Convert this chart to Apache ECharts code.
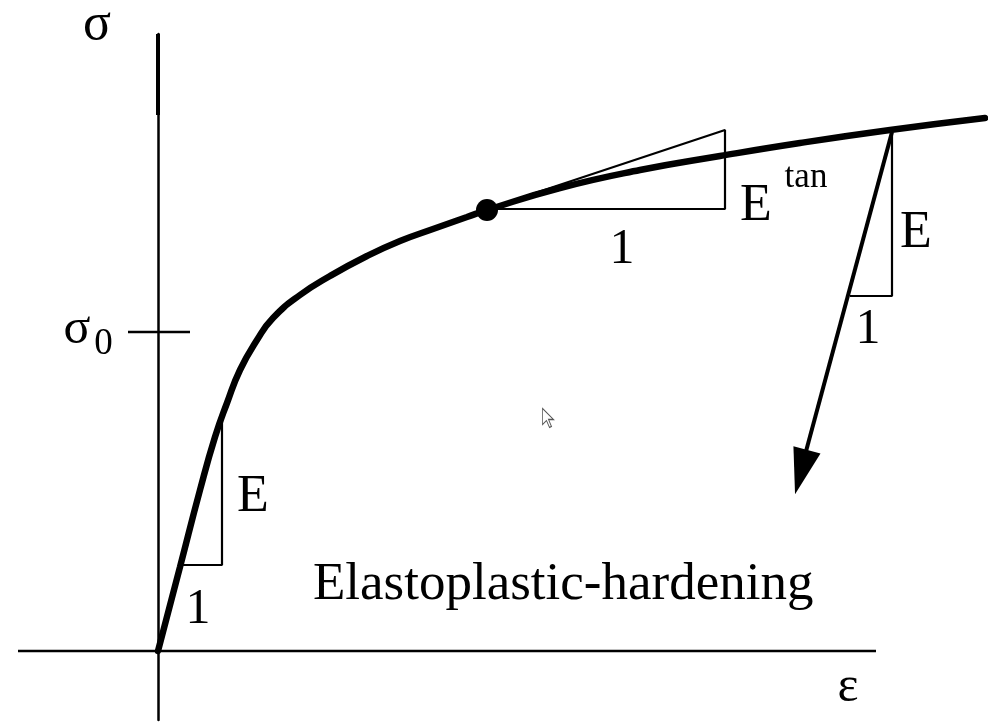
<!DOCTYPE html>
<html><head><meta charset="utf-8">
<script src="https://cdn.jsdelivr.net/npm/echarts@6/dist/echarts.min.js"></script>
<style>html,body{margin:0;padding:0;background:#fff}#c{width:988px;height:724px}</style>
</head><body><div id="c"></div>
<script>
// Stress-strain curve (arbitrary units)
const curveEps = [0, 0.22, 0.42, 0.57, 0.69, 0.82, 0.99, 1.15, 1.42, 1.72, 2.09, 2.42, 2.75, 3.09, 3.29, 4.02, 4.82, 5.62, 6.42, 7.32, 8.27];
const curveSig = [0, 0.84, 1.61, 2.14, 2.48, 2.81, 3.11, 3.33, 3.56, 3.75, 3.95, 4.10, 4.22, 4.34, 4.41, 4.63, 4.81, 4.95, 5.08, 5.21, 5.33];
const viewEps = [-1.40, 8.30];
const viewSig = [-0.69, 6.17];
const xAxisLineEps = [-1.40, 7.18];
const sigma0 = 3.19;
const sigma0TickEps = [-0.30, 0.32];
const tangentPoint = [3.29, 4.41];
const tangentTriEps = [3.29, 5.67, 5.67, 3.29];
const tangentTriSig = [4.42, 4.42, 5.21, 4.42];
const elasticTriEps = [0.64, 0.64, 0.24];
const elasticTriSig = [2.33, 0.86, 0.86];
const unloadTriEps = [7.34, 7.34, 6.92];
const unloadTriSig = [5.19, 3.55, 3.55];
const unloadArrowEps = [7.34, 6.40];
const unloadArrowSig = [5.19, 1.70];
const arrowHead = [6.43, 1.79];
const axisThickEps = [0, 0];
const axisThickSig = [5.36, 6.17];
const cursorPos = [3.90, 2.33];
const labelTexts = ['σ', 'σ', '0', 'ε', 'E', '1', '1', 'E', 'tan', 'E', '1', 'Elastoplastic-hardening'];
const labelEps  = [-0.61, -0.81, -0.545, 6.90, 0.95, 0.40, 4.64, 5.98, 6.48, 7.58, 7.10, 1.55];
const labelSig  = [6.26, 3.21, 3.07, -0.37, 1.54, 0.41, 4.01, 4.45, 4.73, 4.18, 3.21, 0.66];
const labelSize = [52, 50, 37, 50, 52, 50, 50, 52, 35, 52, 50, 53];
const labelAlign = ['center','center','center','center','center','center','center','center','center','center','center','left'];

const zip = (a, b) => a.map((v, i) => [v, b[i]]);
const FONT = "'Liberation Serif','Times New Roman',serif";
const thin = (data, w) => ({ type: 'line', data, symbol: 'none', clip: false, silent: true,
  lineStyle: { color: '#000', width: w }, z: 3 });

const chart = echarts.init(document.getElementById('c'), null, { renderer: 'canvas' });
chart.setOption({
  animation: false,
  backgroundColor: '#fff',
  grid: { left: 18, right: 0, top: 34, bottom: 4 },
  xAxis: { type: 'value', min: viewEps[0], max: viewEps[1],
    axisLine: { show: false },
    axisTick: { show: false }, axisLabel: { show: false }, splitLine: { show: false } },
  yAxis: { type: 'value', min: viewSig[0], max: viewSig[1],
    axisLine: { onZero: true, lineStyle: { color: '#000', width: 2.5 } },
    axisTick: { show: false }, axisLabel: { show: false }, splitLine: { show: false } },
  series: [
    thin(zip(xAxisLineEps, [0, 0]), 2.5),
    thin(zip(axisThickEps, axisThickSig), 4),
    thin(zip(sigma0TickEps, [sigma0, sigma0]), 2.5),
    thin(zip(tangentTriEps, tangentTriSig), 2.2),
    thin(zip(elasticTriEps, elasticTriSig), 2.2),
    thin(zip(unloadTriEps, unloadTriSig), 2.2),
    thin(zip(unloadArrowEps, unloadArrowSig), 4),
    { type: 'line', data: zip(curveEps, curveSig), symbol: 'none', smooth: 0.5, clip: false,
      lineStyle: { color: '#000', width: 6.5, cap: 'round' }, z: 4 },
    { type: 'scatter', data: [tangentPoint], symbol: 'circle', symbolSize: 22, clip: false,
      itemStyle: { color: '#000', opacity: 1 }, z: 5 },
    { type: 'scatter', data: [arrowHead], symbol: 'triangle', symbolSize: [28, 46], symbolRotate: 165,
      clip: false, itemStyle: { color: '#000', opacity: 1 }, z: 5 },
    { type: 'scatter', data: [cursorPos], clip: false, z: 5,
      symbol: 'path://M0,0 L0,16 L4,12 L7,19 L9,18 L6,11 L11,11 Z', symbolSize: [11, 19],
      itemStyle: { color: '#fff', borderColor: '#555', borderWidth: 1, opacity: 1 } },
    { type: 'scatter', symbolSize: 0, clip: false, z: 6, itemStyle: { opacity: 1 },
      data: labelTexts.map((t, i) => ({ value: [labelEps[i], labelSig[i]],
        label: { show: true, position: 'inside', formatter: t, fontFamily: FONT, color: '#000',
          fontSize: labelSize[i], align: labelAlign[i], verticalAlign: 'middle' } })) }
  ]
});
</script></body></html>
